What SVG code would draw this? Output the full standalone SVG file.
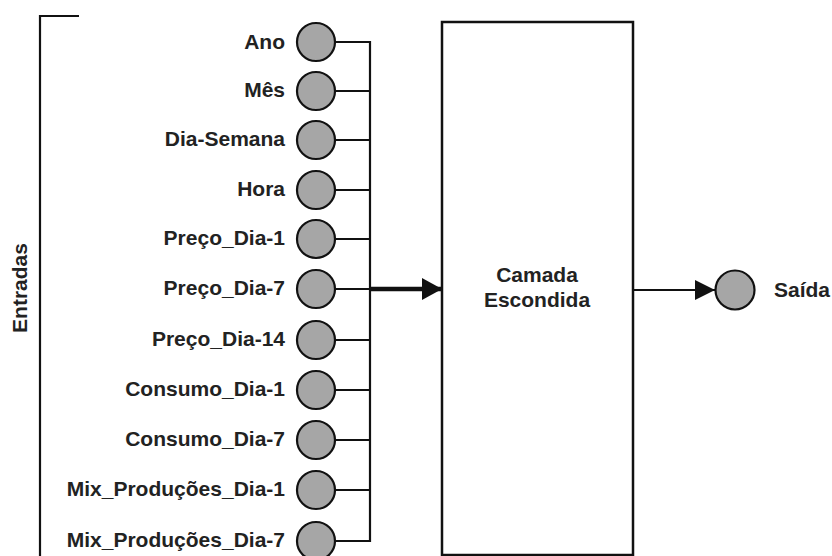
<svg xmlns="http://www.w3.org/2000/svg" width="832" height="556" viewBox="0 0 832 556">
<style>
.lbl{font-family:"Liberation Sans",Arial,sans-serif;font-weight:bold;font-size:21px;fill:#222;}
.end{text-anchor:end;}
.mid{text-anchor:middle;}
.node{fill:#a6a6a6;stroke:#111;stroke-width:2.2;}
.wire{stroke:#111;stroke-width:2.2;fill:none;}
.box{fill:#fff;stroke:#111;stroke-width:2.5;}
</style>
<defs>
<marker id="ahBig" viewBox="0 0 20 22" refX="20" refY="11" markerWidth="20" markerHeight="22" markerUnits="userSpaceOnUse" orient="auto">
<path d="M0,0 L20,11 L0,22 Z" fill="#111"/>
</marker>
<marker id="ahSmall" viewBox="0 0 20 20" refX="20" refY="10" markerWidth="20" markerHeight="20" markerUnits="userSpaceOnUse" orient="auto">
<path d="M0,0 L20,10 L0,20 Z" fill="#111"/>
</marker>
</defs>
<rect width="832" height="556" fill="#fff"/>
<g id="bracket">
<path class="wire" d="M79,16 L40,16 L40,556" stroke-width="2.6"/>
<text class="lbl mid" transform="translate(27,288) rotate(-90)">Entradas</text>
</g>
<g id="connectors">
<path class="wire" d="M335,42 H370 V541 H335"/>
<path class="wire" d="M335,91 H370 M335,140 H370 M335,190 H370 M335,239 H370 M335,289 H370 M335,340 H370 M335,390 H370 M335,440 H370 M335,490 H370"/>
<line x1="370" y1="289" x2="442" y2="289" stroke="#111" stroke-width="4.5" marker-end="url(#ahBig)"/>
<line x1="633" y1="290" x2="715" y2="290" stroke="#111" stroke-width="2.2" marker-end="url(#ahSmall)"/>
</g>
<g id="in-ano"><circle class="node" cx="316" cy="42" r="19"/><text class="lbl end" x="285" y="49">Ano</text></g>
<g id="in-mes"><circle class="node" cx="316" cy="91" r="19"/><text class="lbl end" x="285" y="97">Mês</text></g>
<g id="in-diasemana"><circle class="node" cx="316" cy="140" r="19"/><text class="lbl end" x="285" y="146">Dia-Semana</text></g>
<g id="in-hora"><circle class="node" cx="316" cy="190" r="19"/><text class="lbl end" x="285" y="196">Hora</text></g>
<g id="in-preco1"><circle class="node" cx="316" cy="239" r="19"/><text class="lbl end" x="285" y="245">Preço_Dia-1</text></g>
<g id="in-preco7"><circle class="node" cx="316" cy="289" r="19"/><text class="lbl end" x="285" y="295">Preço_Dia-7</text></g>
<g id="in-preco14"><circle class="node" cx="316" cy="340" r="19"/><text class="lbl end" x="285" y="346">Preço_Dia-14</text></g>
<g id="in-consumo1"><circle class="node" cx="316" cy="390" r="19"/><text class="lbl end" x="285" y="396">Consumo_Dia-1</text></g>
<g id="in-consumo7"><circle class="node" cx="316" cy="440" r="19"/><text class="lbl end" x="285" y="446">Consumo_Dia-7</text></g>
<g id="in-mix1"><circle class="node" cx="316" cy="490" r="19"/><text class="lbl end" x="285" y="496">Mix_Produções_Dia-1</text></g>
<g id="in-mix7"><circle class="node" cx="316" cy="541" r="19"/><text class="lbl end" x="285" y="547">Mix_Produções_Dia-7</text></g>
<g id="hidden">
<rect class="box" x="442" y="22" width="191" height="533"/>
<text class="lbl mid" x="537" y="282">Camada</text>
<text class="lbl mid" x="537" y="307">Escondida</text>
</g>
<g id="out-saida">
<circle class="node" cx="735" cy="290" r="19.5"/>
<text class="lbl" x="774" y="297">Saída</text>
</g>
</svg>
